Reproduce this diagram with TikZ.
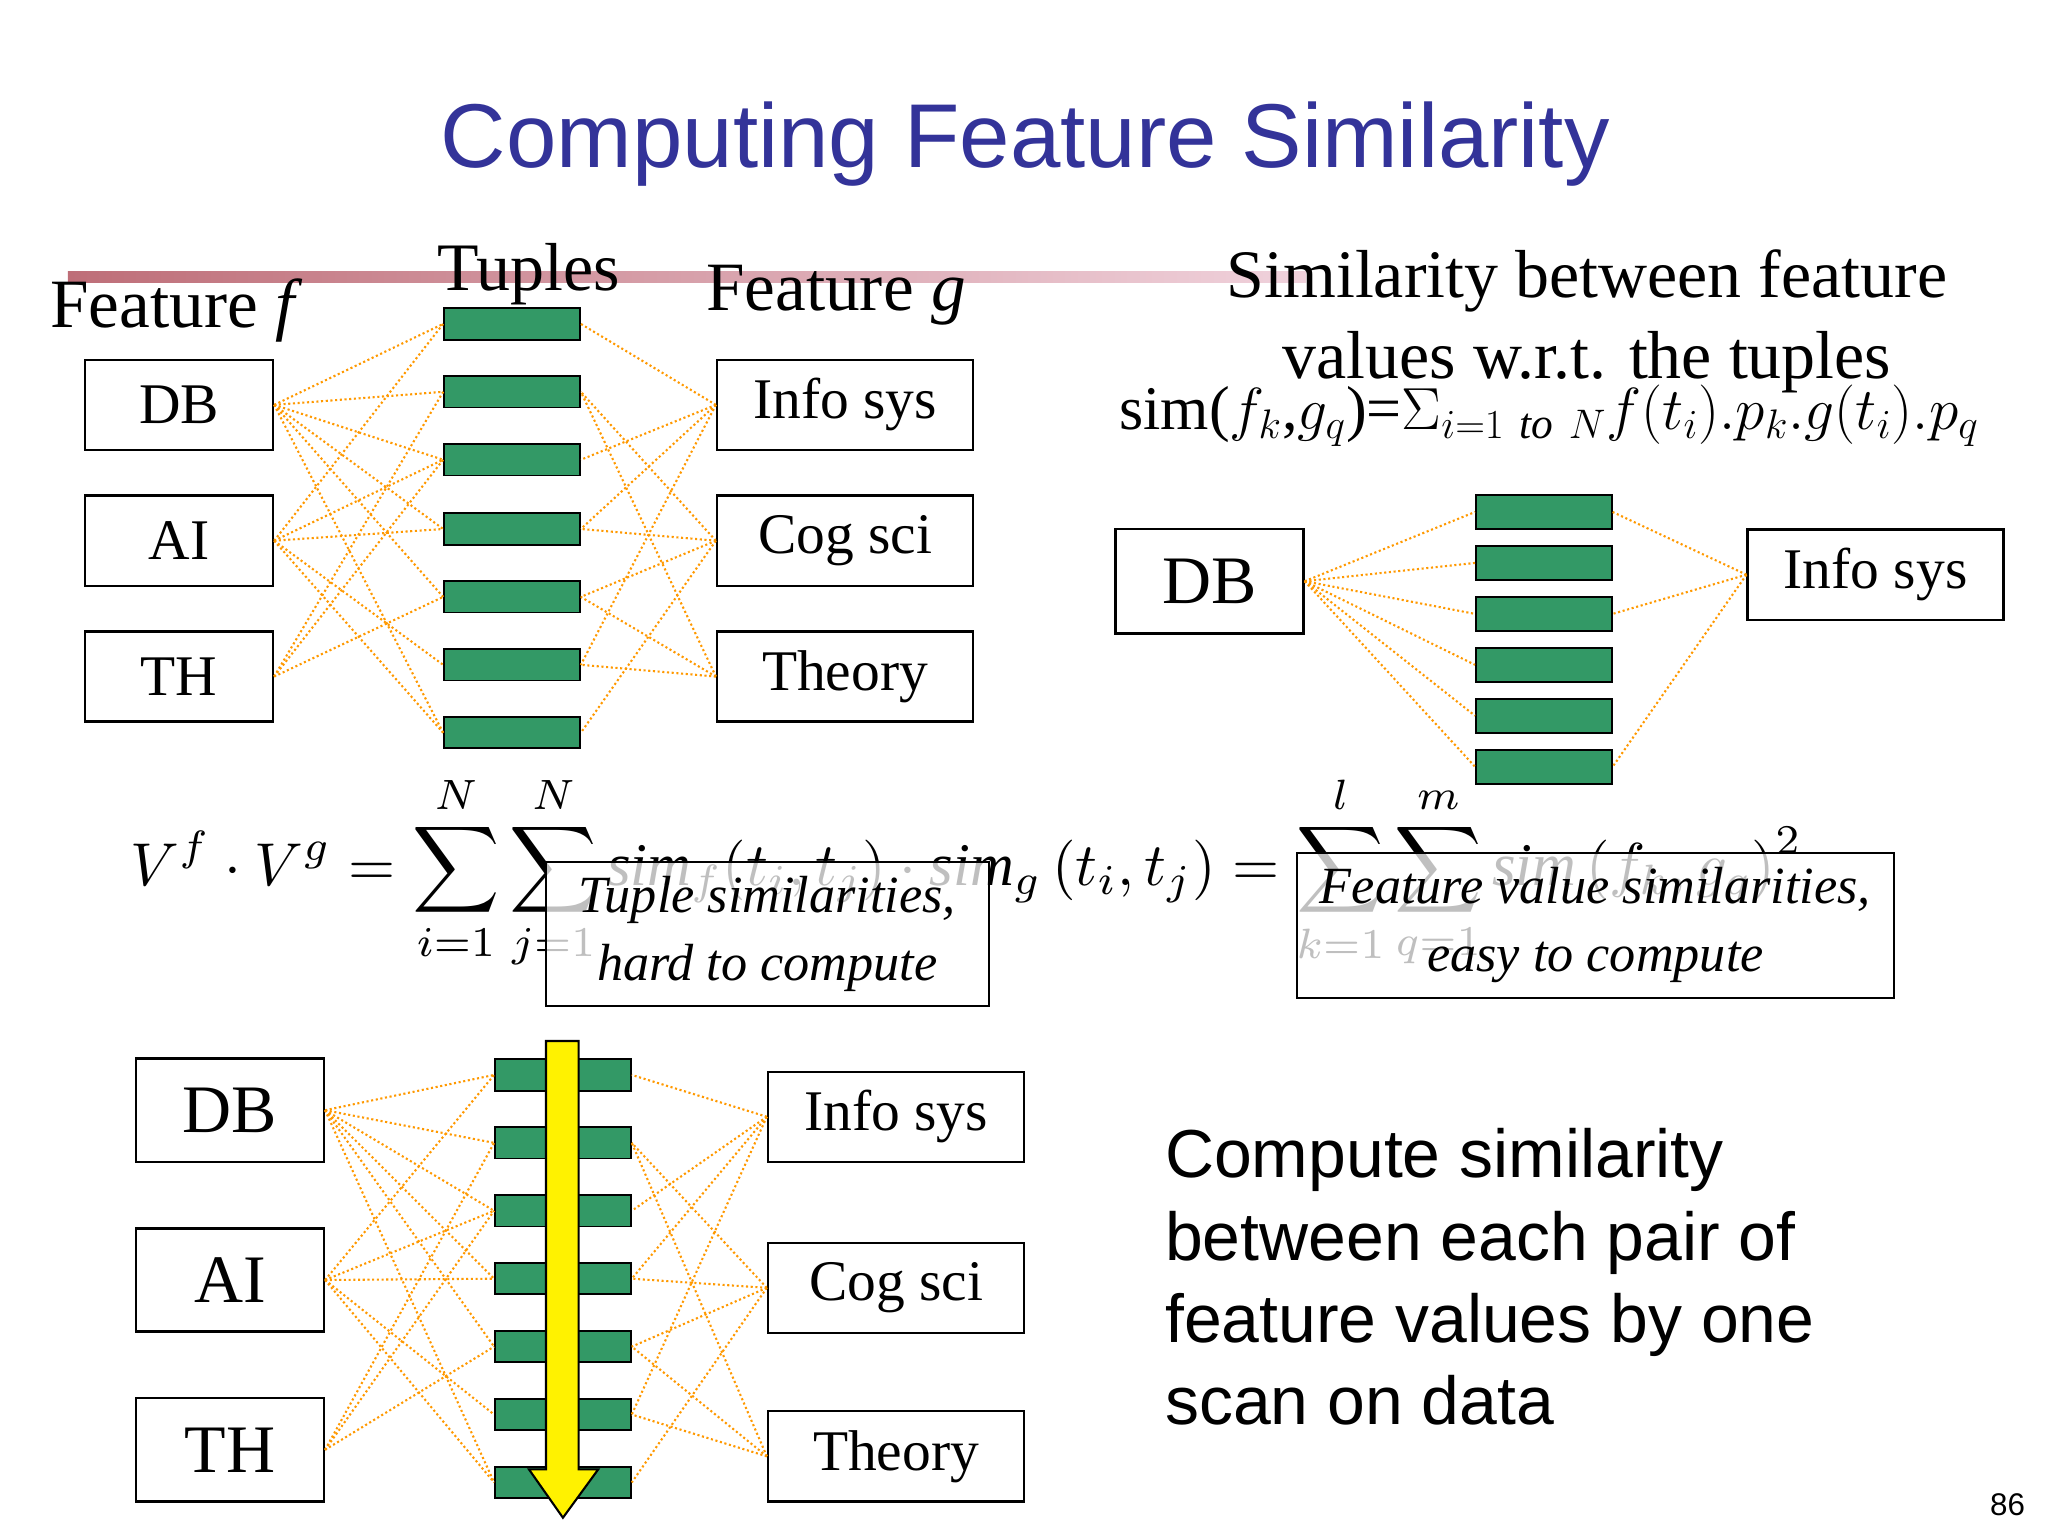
\documentclass[tikz,border=0pt]{standalone}
\usepackage{fontspec}
\setmainfont{Liberation Serif}
\newfontfamily\sansf{Liberation Sans}
\usetikzlibrary{shapes.arrows}
\definecolor{ttl}{RGB}{51,51,153}
\definecolor{tgreen}{RGB}{51,153,102}
\definecolor{edge}{RGB}{255,153,0}
\begin{document}
\begin{tikzpicture}[x=0.5pt,y=-0.5pt,
  box/.style={draw,line width=0.9pt,fill=white,inner sep=0,minimum width=72pt,minimum height=34.5pt,font=\fontsize{22}{24}\selectfont},
  gbox/.style={box,minimum width=98pt},
  tup/.style={draw,line width=0.7pt,fill=tgreen,inner sep=0,minimum width=52pt,minimum height=12pt},
  tupb/.style={tup,minimum height=13pt},
  ed/.style={draw=edge,densely dotted,line width=0.8pt}]
\useasboundingbox (0,0) rectangle (1568,1176);
\fill[white] (0,0) rectangle (1568,1176);
% title
\node[font=\sansf\fontsize{34.7}{38}\selectfont,text=ttl] (title) at (785,110) {Computing Feature Similarity};
\shade[left color={rgb,255:red,190;green,110;blue,120},right color={rgb,255:red,240;green,210;blue,220}] (52,208) rectangle (1000,216);
% top-left
\node[font=\fontsize{26.5}{28}\selectfont] (ff) at (135,238) {Feature \textit{f}};
\node[font=\fontsize{26}{28}\selectfont] (tl) at (405,210) {Tuples};
\node[font=\fontsize{26.5}{28}\selectfont] (fg) at (640,226) {Feature \textit{g}};
\node[box] (fa1) at (137,310) {DB};
\node[box] (fa2) at (137,414) {AI};
\node[box] (fa3) at (137,518) {TH};
\node[gbox] (ga1) at (647,310) {Info sys};
\node[gbox] (ga2) at (647,414) {Cog sci};
\node[gbox] (ga3) at (647,518) {Theory};
\foreach \i/\y in {1/248,2/300,3/352,4/405,5/457,6/509,7/561} \node[tup] (ta\i) at (392,\y) {};
\foreach \f/\l in {1/{1,2,3,4,5,7},2/{1,3,4,6,7},3/{2,3,5}} \foreach \t in \l \draw[ed] (fa\f.east) -- (ta\t.west);
\foreach \g/\l in {1/{1,3,4,6},2/{2,4,5,7},3/{2,5,6}} \foreach \t in \l \draw[ed] (ga\g.west) -- (ta\t.east);
% top-right
\node[font=\fontsize{26}{31}\selectfont,align=center] (simt) at (1215,246) {Similarity between feature\\values w.r.t. the tuples};
\node[anchor=west] (simf) at (850,318) {\resizebox{329pt}{!}{\fontsize{26}{28}\selectfont sim($f_k$,$g_q$)=$\Sigma_{i=1\ \mathit{to}\ N}f(t_i).p_k.g(t_i).p_q$}};
\node[box,minimum height=40pt,font=\fontsize{26}{28}\selectfont] (rdb) at (926,445) {DB};
\node[gbox] (rinfo) at (1436,440) {Info sys};
\foreach \i/\y in {1/392,2/431,3/470,4/509,5/548,6/587} \node[tupb] (tr\i) at (1182,\y) {};
\foreach \t in {1,...,6} \draw[ed] (rdb.east) -- (tr\t.west);
\foreach \t in {1,3,6} \draw[ed] (rinfo.west) -- (tr\t.east);
% formula
\node (form) at (740,668) {\resizebox{640pt}{!}{$\displaystyle V^f\cdot V^g=\sum_{i=1}^N\sum_{j=1}^N \mathit{sim}_f(t_i,t_j)\cdot \mathit{sim}_g\left(t_i,t_j\right)=\sum_{k=1}^l\sum_{q=1}^m \mathit{sim}\left(f_k,g_q\right)^2$}};
\node[draw,line width=0.9pt,fill=white,fill opacity=0.75,text opacity=1,minimum width=169.5pt,minimum height=55pt,align=center,font=\itshape\fontsize{20}{26}\selectfont] (b1) at (587.5,715) {Tuple similarities,\\hard to compute};
\node[draw,line width=0.9pt,fill=white,fill opacity=0.75,text opacity=1,minimum width=228.5pt,minimum height=55.5pt,align=center,font=\itshape\fontsize{20}{26}\selectfont] (b2) at (1221.5,708.5) {Feature value similarities,\\easy to compute};
% bottom
\node[box,minimum height=39.5pt,font=\fontsize{26}{28}\selectfont] (fb1) at (176,850) {DB};
\node[box,minimum height=39.5pt,font=\fontsize{26}{28}\selectfont] (fb2) at (176,980) {AI};
\node[box,minimum height=39.5pt,font=\fontsize{26}{28}\selectfont] (fb3) at (176,1110) {TH};
\node[gbox] (gb1) at (686,855) {Info sys};
\node[gbox] (gb2) at (686,986) {Cog sci};
\node[gbox] (gb3) at (686,1115) {Theory};
\foreach \i/\y in {1/823,2/875,3/927,4/979,5/1031,6/1083,7/1135} \node[tup] (tb\i) at (431,\y) {};
\foreach \f/\l in {1/{1,2,3,4,5,7},2/{1,3,4,6,7},3/{2,3,5}} \foreach \t in \l \draw[ed] (fb\f.east) -- (tb\t.west);
\foreach \g/\l in {1/{1,3,4,6},2/{2,4,5,7},3/{2,5,6}} \foreach \t in \l \draw[ed] (gb\g.west) -- (tb\t.east);
\coordinate (atip) at (431,1162);
\draw[fill=yellow,line width=0.8pt] (418,797) -- (443,797) -- (443,1125) -- (458,1125) -- (atip) -- (405,1125) -- (418,1125) -- cycle;
\node[anchor=north west,align=left,font=\sansf\fontsize{26}{31.5}\selectfont] (txt) at (885,857) {Compute similarity\\between each pair of\\feature values by one\\scan on data};
\node[font=\sansf\fontsize{12}{14}\selectfont] (pg) at (1537,1152) {86};
\end{tikzpicture}
\end{document}
